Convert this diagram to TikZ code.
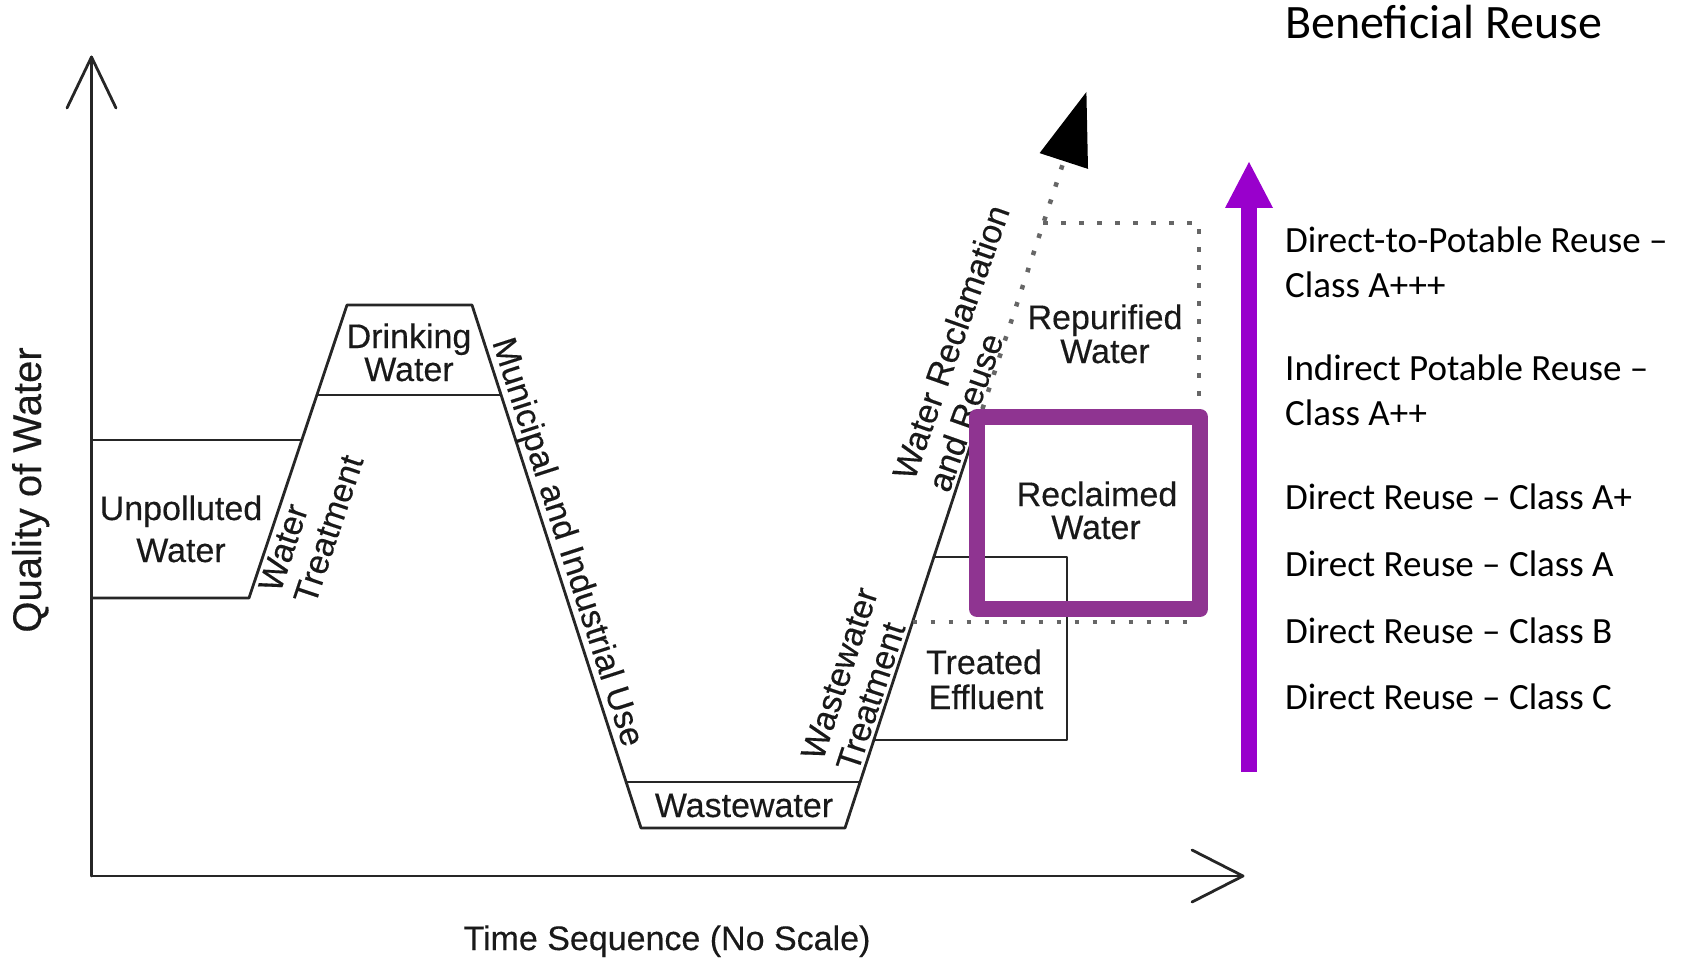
\documentclass[tikz,border=0pt]{standalone}
\usepackage{fontspec}
\setmainfont{Liberation Sans}
\newfontfamily\diagfont[FakeBold=0.3]{Liberation Sans}
\newfontfamily\notefont{Carlito}
\definecolor{pboxc}{RGB}{143,52,145}
\definecolor{parrc}{RGB}{153,0,204}
\begin{document}
\begin{tikzpicture}[x=1pt,y=-1pt,
  ln/.style={line width=2.8pt, draw=black!85, line cap=round, line join=round},
  dotln/.style={line width=4.5pt, draw=black!60, dash pattern=on 4.5pt off 13.5pt},
  lab/.style={font=\diagfont\fontsize{34}{37}\selectfont, inner sep=0pt, text=black!90},
  note/.style={font=\notefont\fontsize{37}{40}\selectfont, inner sep=0pt, anchor=base west}]
\useasboundingbox (0,0) rectangle (1691,960);
% coordinates
\coordinate (O) at (91.5,876);
\coordinate (Ytip) at (91.5,57);
\coordinate (Xtip) at (1243,876);
\coordinate (U1) at (91.5,440); \coordinate (U2) at (302,440);
\coordinate (U3) at (91.5,598); \coordinate (U4) at (249,598);
\coordinate (D1) at (347,305); \coordinate (D2) at (472,305);
\coordinate (D3) at (317,395); \coordinate (D4) at (501,395);
\coordinate (W1) at (626,782); \coordinate (W2) at (860.1,782);
\coordinate (W3) at (641,828); \coordinate (W4) at (845,828);
\coordinate (T1) at (933.9,557); \coordinate (T2) at (1067,557);
\coordinate (T3) at (873.9,740); \coordinate (T4) at (1067,740);
\coordinate (R0) at (982.4,409);
\coordinate (Rtop) at (1043.4,223);
\coordinate (Rbase) at (1063.8,161);
\coordinate (P1) at (1199,223); \coordinate (P2) at (1199,622);
\coordinate (P3) at (912.6,622);
% axes
\draw[ln] (O) -- (Ytip);
\draw[ln] (O) -- (Xtip);
\draw[ln] (67,108) -- (Ytip) -- (116,108);
\draw[ln] (1192,850) -- (Xtip) -- (1192,902);
% curve boxes
\draw[ln] (U1) -- (U2);
\draw[ln] (U3) -- (U4) -- (D1) -- (D2) -- (W3) -- (W4) -- (R0);
\draw[ln] (D3) -- (D4);
\draw[ln] (W1) -- (W2);
\draw[ln] (T1) -- (T2) -- (T4) -- (T3);
% dotted
\draw[dotln] (R0) -- (Rbase);
\draw[dotln] (Rtop) -- (P1) -- (P2);
\draw[dotln] (P3) -- (P2);
\fill[black] (1086.4,92) -- (1088.0,168.9) -- (1039.6,153.1) -- cycle;
% horizontal labels
\node[lab, anchor=base] (unp1) at (181,520) {Unpolluted};
\node[lab, anchor=base] (unp2) at (181,562) {Water};
\node[lab, anchor=base] (dri1) at (409,348) {Drinking};
\node[lab, anchor=base] (dri2) at (409,381) {Water};
\node[lab, anchor=base] (was1) at (744,817) {Wastewater};
\node[lab, anchor=base] (tre1) at (984,674) {Treated};
\node[lab, anchor=base] (tre2) at (986,709) {Effluent};
\node[lab, anchor=base] (rep1) at (1105,329) {Repurified};
\node[lab, anchor=base] (rep2) at (1105,363) {Water};
\node[lab, anchor=base] (time) at (667,950) {Time Sequence (No Scale)};
\node[lab, anchor=base, rotate=90, font=\diagfont\fontsize{40}{44}\selectfont] (qual) at (41,490) {Quality of Water};
% slanted labels
\node[lab, anchor=base west, rotate=71.5] (wt1) at (280,594) {Water};
\node[lab, anchor=base west, rotate=71.5] (wt2) at (315,606) {Treatment};
\node[lab, anchor=base west, rotate=-72.1] (mun) at (492,342) {Municipal and Industrial Use};
\node[lab, anchor=base west, rotate=71.8] (wwt1) at (822.5,762) {Wastewater};
\node[lab, anchor=base west, rotate=71.8] (wwt2) at (857.7,773.4) {Treatment};
\node[lab, anchor=base west, rotate=70.5] (wr1) at (914,482) {Water Reclamation};
\node[lab, anchor=base west, rotate=70.5] (wr2) at (949,494) {and Reuse};
% purple box
\draw[line width=16pt, draw=pboxc, line join=round] (977,417) rectangle (1200,609);
\node[lab, anchor=base] (rec1) at (1097,506) {Reclaimed};
\node[lab, anchor=base] (rec2) at (1096,539) {Water};
% purple arrow
\coordinate (Abot) at (1249,772);
\coordinate (Abase) at (1249,208);
\coordinate (Atip) at (1249,162);
\fill[parrc] (1241,772) rectangle (1257,207);
\fill[parrc] (1225,208) -- (Atip) -- (1273,208) -- cycle;
% right texts
\node[note, font=\notefont\fontsize{48}{50}\selectfont] (ben) at (1285,39) {Beneficial Reuse};
\node[note] (c1) at (1285,252) {Direct-to-Potable Reuse –};
\node[note] (c1b) at (1285,297) {Class A+++};
\node[note] (c2) at (1285,380) {Indirect Potable Reuse –};
\node[note] (c2b) at (1285,425) {Class A++};
\node[note] (c3) at (1285,509) {Direct Reuse – Class A+};
\node[note] (c4) at (1285,576) {Direct Reuse – Class A};
\node[note] (c5) at (1285,643) {Direct Reuse – Class B};
\node[note] (c6) at (1285,709) {Direct Reuse – Class C};
\end{tikzpicture}
\end{document}
